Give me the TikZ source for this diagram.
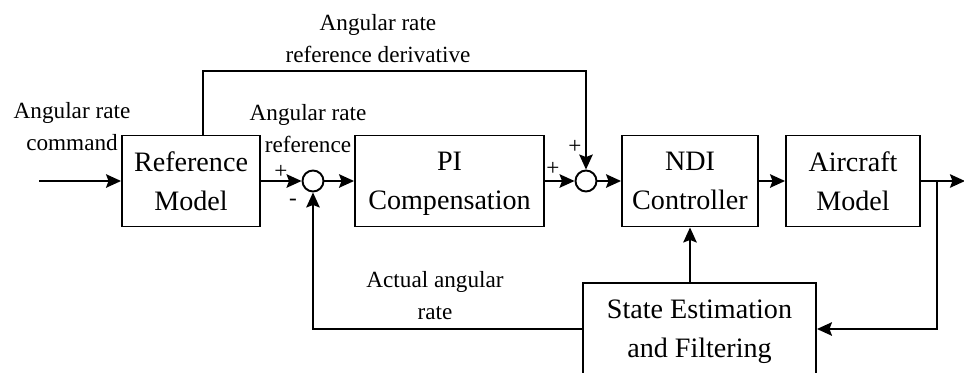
\documentclass[tikz,border=0pt]{standalone}
\usepackage{fontspec}
\setmainfont{Liberation Serif}
\usetikzlibrary{arrows.meta, positioning}

\begin{document}
\begin{tikzpicture}[->, >={Stealth[length=0.3cm, width=0.27cm, inset=0.05cm]}, node distance=2.5cm, on grid, line width=1.1pt]
      \tikzstyle{block}=[draw, rectangle, minimum height=1.82cm, align=center, text depth=0pt, font=\fontsize{16}{22}\selectfont]
      \tikzstyle{sum}=[draw, circle, minimum size=0.42cm, inner sep=0pt]
      \tikzstyle{lbl}=[align=center, font=\fontsize{13.2}{18.2}\selectfont]
      \useasboundingbox (0,0) rectangle (19.28,-7.44);
      \node[block, minimum width=2.76cm] (ref) at (3.82,-3.62) {Reference\\Model};
      \node[sum] (sum1) [right=2.44cm of ref] {};
      \node[block, minimum width=3.78cm] (pi) [right=2.73cm of sum1] {PI\\Compensation};
      \node[sum] (sum2) [right=2.73cm of pi] {};
      \node[block, minimum width=2.72cm] (ndi) [right=2.08cm of sum2] {NDI\\Controller};
      \node[block, minimum width=2.68cm] (air) [right=3.26cm of ndi] {Aircraft\\Model};
      \node[block, minimum width=4.66cm, minimum height=1.84cm] (est) [below right=2.96cm and 0.19cm of ndi] {State Estimation\\and Filtering};
      \coordinate[left=1.64cm of ref.west] (in);
      \coordinate[right=0.88cm of air.east] (out);
      \coordinate[right=0.32cm of air.east] (split);
      \coordinate[above=2.2cm of sum2] (top);
      % labels
      \node[lbl] (cmdlbl) [above left=0.16cm and 0.98cm of ref.north west, anchor=center] {Angular rate\\command};
      \node[lbl] (reflbl) [above left=1.04cm and 0.1cm of sum1] {Angular rate\\reference};
      \node[lbl] (derlbl) [above left=0.64cm and 4.16cm of top, anchor=center] {Angular rate\\reference derivative};
      \node[lbl] (actlbl) [above left=0.66cm and 2.94cm of est.west, anchor=center] {Actual angular\\rate};
      \node[lbl] (p1) [above left=0.19cm and 0.64cm of sum1] {+};
      \node[lbl] (m1) [below left=0.42cm and 0.4cm of sum1] {-};
      \node[lbl] (p2) [above left=0.25cm and 0.66cm of sum2] {+};
      \node[lbl] (p3) [above left=0.68cm and 0.22cm of sum2] {+};
      % forward path
      \path (in) edge (ref);
      \path (ref) edge (sum1);
      \path (sum1) edge (pi);
      \path (pi) edge (sum2);
      \path (sum2) edge (ndi);
      \path (ndi) edge (air);
      \path (air) edge (out);
      % feedforward and feedback
      \draw ([xshift=0.24cm]ref.north) |- (top) -- (sum2);
      \draw (split) |- (est);
      \draw (est) -| (sum1);
      \draw (est.north -| ndi) -- (ndi);
    \end{tikzpicture}
\end{document}
